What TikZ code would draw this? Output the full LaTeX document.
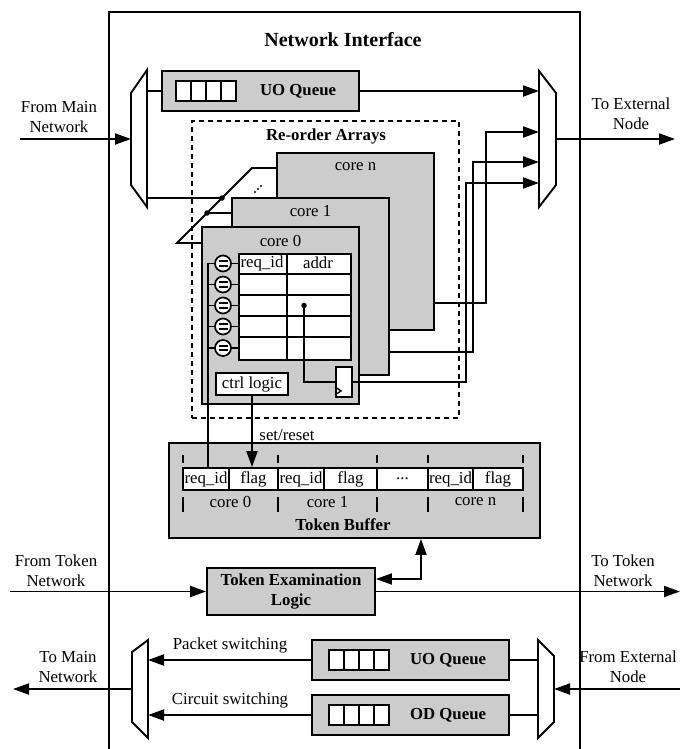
\documentclass[tikz,border=0pt]{standalone}
\usepackage{fontspec}
\setmainfont{Liberation Serif}
\usetikzlibrary{arrows.meta,calc}
\definecolor{boxgray}{HTML}{CCCCCC}
\tikzset{
 wire/.style={line width=1.9pt},
 arr/.style={wire,-{Triangle[length=16pt,width=11pt]}},
 arrb/.style={wire,{Triangle[length=16pt,width=11pt]}-{Triangle[length=16pt,width=11pt]}},
 gbox/.style={draw,line width=1.9pt,fill=boxgray,inner sep=0pt},
 wbox/.style={draw,line width=1.9pt,fill=white,inner sep=0pt},
 txt/.style={font=\fontsize{16.8}{20}\selectfont,align=center,inner sep=0pt},
 btxt/.style={font=\fontsize{16.8}{20}\selectfont\bfseries,align=center,inner sep=0pt},
 jdot/.style={circle,fill=black,inner sep=0pt,minimum size=5.5pt},
 reg/.pic={\foreach \i in {0,1,2,3} \draw[line width=1.9pt,fill=white] (\i*15,0) rectangle ++(15,20);},
 cmp/.pic={\draw[line width=1.7pt,fill=white] (0,0) circle (8pt);
   \draw[line width=1.8pt] (-4.5,-2.3)--(4.5,-2.3) (-4.5,2.3)--(4.5,2.3);}
}
\begin{document}
\begin{tikzpicture}[x=1pt,y=-1pt]
\useasboundingbox (0,0) rectangle (685,749);
\clip (0,0) rectangle (685,749);

% outer Network Interface box
\node[draw,line width=1.9pt,minimum width=471pt,minimum height=780pt,anchor=north west,inner sep=0pt] (ni) at (108,11) {};
\node[btxt,font=\fontsize{20}{22}\selectfont\bfseries] (nititle) at (343,40) {Network Interface};

% ---------- top half ----------
\coordinate (mxL) at (131,139);
\coordinate (mxR) at (539,139);
\draw[wire,fill=white] (131,93) -- (147,70) -- (147,207) -- (131,185) -- cycle;
\draw[wire,fill=white] (539,71) -- (556,93) -- (556,185) -- (539,207) -- cycle;
\coordinate (fromMain) at (20,139);
\coordinate (toExt) at (675,139);
\draw[arr] (fromMain) -- (mxL);
\draw[arr] (556,139) -- (toExt);
\node[txt] (lfm) at (59,117) {From Main\\Network};
\node[txt] (lte) at (631,114) {To External\\Node};

% UO queue (top)
\node[gbox,minimum width=197pt,minimum height=40pt] (uoT) at (260.5,91) {};
\pic at ($(uoT.west)+(15,-10)$) {reg};
\node[btxt] (uoTt) at ($(uoT.west)+(137,0)$) {UO Queue};
\draw[wire] (uoT.west) -- ++(-15,0);
\draw[arr] (uoT.east) -- (uoT.east -| mxR);

% re-order arrays
\node[draw,line width=1.1pt,dash pattern=on 5pt off 4pt,minimum width=267pt,minimum height=297pt,inner sep=0pt] (roa) at (325.5,269.5) {};
\node[btxt] (roat) at (326,136) {Re-order Arrays};

\node[gbox,minimum width=157pt,minimum height=177pt] (coren) at (355.5,241.5) {};
\node[txt] at ($(coren.north)+(0,15)$) {core n};
\node[gbox,minimum width=157pt,minimum height=177pt] (core1) at (310.5,286.5) {};
\node[txt] at ($(core1.north)+(0,14)$) {core 1};
\node[gbox,minimum width=157pt,minimum height=177pt] (core0) at (280.5,315.5) {};
\node[txt] at ($(core0.north)+(0,15)$) {core 0};

% slanted bus
\coordinate (bA) at (177,243);
\coordinate (bB) at (252,168);
\draw[wire] (core0.west |- bA) -- (bA) -- (bB) -- (coren.west |- bB);
\draw[wire] (147,198) -- (222,198);
\node[jdot] (j1) at (222,198) {};
\draw[wire] (207,213) -- (core1.west |- 0,213);
\node[jdot] (j2) at (207,213) {};
\foreach \p in {(255,192),(258,189),(261,186)} \fill \p circle (1.2pt);

% table
\node[wbox,minimum width=112pt,minimum height=106pt,anchor=north west] (tbl) at (238,253) {};
\foreach \y in {274,295,316,337} \draw[wire] (238,\y) -- (350,\y);
\draw[wire] (287,253) -- (287,359);
\node[txt] at (262,263) {req\_id};
\node[txt] at (318,263) {addr};

% token buffer
\node[gbox,minimum width=371pt,minimum height=95pt] (tb) at (354.5,490.5) {};
\foreach \x in {183,278,377,428,523} \draw[line width=1.5pt] (\x,455)--(\x,463) (\x,497)--(\x,512);
\node[wbox,txt,minimum width=46pt,minimum height=22pt] (req0) at (206,479) {req\_id};
\node[wbox,txt,minimum width=49pt,minimum height=22pt] (flag0) at (253.5,479) {flag};
\node[wbox,txt,minimum width=46pt,minimum height=22pt] (req1) at (301,479) {req\_id};
\node[wbox,txt,minimum width=53pt,minimum height=22pt] (flag1) at (350.5,479) {flag};
\node[wbox,txt,minimum width=51pt,minimum height=22pt] (dotc) at (402.5,479) {...};
\node[wbox,txt,minimum width=45pt,minimum height=22pt] (reqn) at (450.5,479) {req\_id};
\node[wbox,txt,minimum width=50pt,minimum height=22pt] (flagn) at (498,479) {flag};
\node[txt] at (230.5,502) {core 0};
\node[txt] at (327.5,502) {core 1};
\node[txt] at (475.5,502) {core n};
\node[btxt] (tbt) at (343,525) {Token Buffer};

% comparators
\coordinate (cmpcol) at (208,263.5);
\draw[wire] (238,263.5) -- (cmpcol) -- (cmpcol |- req0.north);
\foreach \y in {284.5,305.5,326.5,348} \draw[wire] (208,\y) -- (238,\y);
\foreach \y in {263.5,284.5,305.5,326.5,348} \pic at (223,\y) {cmp};

% ctrl logic
\node[wbox,txt,minimum width=72pt,minimum height=22pt] (ctrl) at (252,384) {ctrl logic};
\draw[arr] (ctrl.south) -- (ctrl.south |- flag0.north);
\node[txt] (sr) at (287,435) {set/reset};

% flip-flop
\node[wbox,minimum width=16pt,minimum height=30pt] (ff) at (344,382) {};
\draw[line width=1.4pt] ($(ff.south west)+(0,-11)$) -- ++(6,4) -- ++(-6,4);
\node[jdot] (jd) at (304,305.5) {};
\draw[wire] (jd.center) -- (304,382) -- (ff.west);

% outputs to mux
\draw[arr] (ff.east) -- (466,382) -- (466,183) -- (mxR |- 0,183);
\draw[arr] (core1.east |- 0,352) -- (473,352) -- (473,162) -- (mxR |- 0,162);
\draw[arr] (coren.east |- 0,303) -- (486,303) -- (486,132) -- (mxR |- 0,132);

% token examination
\node[gbox,btxt,minimum width=168pt,minimum height=47pt] (tex) at (291,591.5) {Token Examination\\Logic};
\coordinate (fromTok) at (10,591.5);
\coordinate (toTok) at (680,591.5);
\draw[arr] (fromTok) -- (tex.west);
\draw[arr] (tex.east) -- (toTok);
\draw[arrb] ($(tex.east)+(0,-12.5)$) -| ($(tb.south)+(66.5,0)$);
\node[txt] (lft) at (56,570.5) {From Token\\Network};
\node[txt] (ltt) at (623,570.5) {To Token\\Network};

% ---------- bottom ----------
\draw[wire,fill=white] (132,652) -- (148,640) -- (148,738) -- (132,722) -- cycle;
\draw[wire,fill=white] (538,640) -- (554,656) -- (554,722) -- (538,738) -- cycle;
\node[gbox,minimum width=197pt,minimum height=40pt] (uoB) at (410.5,660) {};
\pic at ($(uoB.west)+(18,-10)$) {reg};
\node[btxt] at ($(uoB.west)+(137,0)$) {UO Queue};
\node[gbox,minimum width=197pt,minimum height=40pt] (odB) at (410.5,715) {};
\pic at ($(odB.west)+(18,-10)$) {reg};
\node[btxt] at ($(odB.west)+(137,0)$) {OD Queue};
\draw[arr] (uoB.west) -- (148,660);
\draw[arr] (odB.west) -- (148,715);
\node[txt] (lps) at (230,645) {Packet switching};
\node[txt] (lcs) at (230,700) {Circuit switching};
\draw[wire] (uoB.east) -- (538,660);
\draw[wire] (odB.east) -- (538,715);
\coordinate (fromExt) at (680,689);
\coordinate (toMain) at (13,689);
\draw[arr] (fromExt) -- (554,689);
\draw[arr] (132,689) -- (toMain);
\node[txt] (ltm) at (68,667) {To Main\\Network};
\node[txt] (lfe) at (628,667) {From External\\Node};
\end{tikzpicture}
\end{document}
